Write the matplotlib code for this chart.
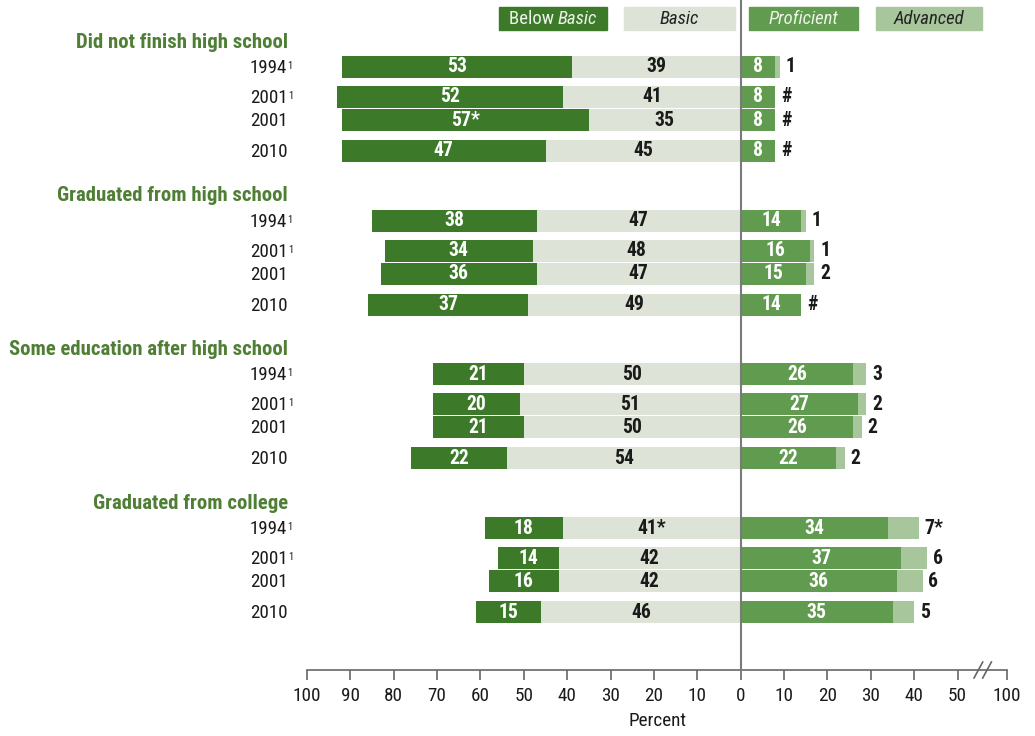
import matplotlib
matplotlib.use("Agg")
import matplotlib.pyplot as plt
from matplotlib.patches import Rectangle
from matplotlib import font_manager
from matplotlib.font_manager import FontProperties

# pick the narrowest face that is installed
family = 'DejaVu Sans'
for cand in ['Roboto Condensed', 'Liberation Sans Narrow', 'Open Sans Condensed',
             'Roboto', 'Liberation Sans']:
    try:
        font_manager.findfont(FontProperties(family=cand), fallback_to_default=False)
        family = cand
        break
    except Exception:
        pass
plt.rcParams['font.family'] = [family, 'DejaVu Sans']

groups = ["Did not finish high school", "Graduated from high school",
          "Some education after high school", "Graduated from college"]
years = ["1994", "2001", "2001", "2010"]
year_notes = ["1", "1", "", ""]

below_basic = [[53, 52, 57, 47], [38, 34, 36, 37], [21, 20, 21, 22], [18, 14, 16, 15]]
basic = [[39, 41, 35, 45], [47, 48, 47, 49], [50, 51, 50, 54], [41, 42, 42, 46]]
proficient = [[8, 8, 8, 8], [14, 16, 15, 14], [26, 27, 26, 22], [34, 37, 36, 35]]
advanced = [[1, 0, 0, 0], [1, 1, 2, 0], [3, 2, 2, 2], [7, 6, 6, 5]]

below_basic_lbl = [["53", "52", "57*", "47"], ["38", "34", "36", "37"],
                   ["21", "20", "21", "22"], ["18", "14", "16", "15"]]
basic_lbl = [["39", "41", "35", "45"], ["47", "48", "47", "49"],
             ["50", "51", "50", "54"], ["41*", "42", "42", "46"]]
proficient_lbl = [["8", "8", "8", "8"], ["14", "16", "15", "14"],
                  ["26", "27", "26", "22"], ["34", "37", "36", "35"]]
advanced_lbl = [["1", "#", "#", "#"], ["1", "1", "2", "#"],
                ["3", "2", "2", "2"], ["7*", "6", "6", "5"]]

legend_names = ["Below", "Basic", "Basic", "Proficient", "Advanced"]

c_below = "#3c7a2a"
c_basic = "#dde4d7"
c_prof = "#619b4f"
c_adv = "#a8c69c"
c_head = "#4f7e35"
c_txt = "#1a1a1a"

fig = plt.figure(figsize=(10.35, 7.36), dpi=100)
ax = fig.add_axes([307 / 1035, 66 / 736, 700 / 1035, 670 / 736])
ax.set_xlim(-100, 61.4)
ax.set_ylim(670, 0)
renderer = fig.canvas.get_renderer()
px_per_unit = 700 / 161.4


def fit(txt, target, **kw):
    # font size that gives the text the target width in pixels
    t = fig.text(0, 0, txt, fontsize=10, **kw)
    w = t.get_window_extent(renderer).width
    t.remove()
    return 10 * target / w


fs_head = min(fit("Some education after high school", 279, fontweight='bold'), 16)
fs_year = min(fit("2010", 37), 16)
fs_bar = min(fit("53", 20, fontweight='bold'), 15)
fs_tick = min(fit("100", 28), 16)
fs_leg = min(fit("Proficient", 70, style='italic'), 15)

row_off = [0, 30, 53, 84]
group_gap = 153.7
first_row = 67
bh = 22

for g in range(4):
    base = first_row + g * group_gap
    ax.text(-104.4, base - 25, groups[g], ha='right', va='center', fontsize=fs_head,
            fontweight='bold', color=c_head, clip_on=False)
    for r in range(4):
        y = base + row_off[r]
        bb = below_basic[g][r]
        b = basic[g][r]
        p = proficient[g][r]
        a = advanced[g][r]
        ax.barh(y, -b, height=bh, left=0, color=c_basic)
        ax.barh(y, -bb, height=bh, left=-b, color=c_below)
        ax.barh(y, p, height=bh, left=0, color=c_prof)
        ax.barh(y, a, height=bh, left=p, color=c_adv)
        ax.text(-b - bb / 2, y, below_basic_lbl[g][r], ha='center', va='center',
                fontsize=fs_bar, fontweight='bold', color='white')
        ax.text(-b / 2, y, basic_lbl[g][r], ha='center', va='center',
                fontsize=fs_bar, fontweight='bold', color=c_txt)
        ax.text(p / 2, y, proficient_lbl[g][r], ha='center', va='center',
                fontsize=fs_bar, fontweight='bold', color='white')
        ax.text(p + a + 1.3, y, advanced_lbl[g][r], ha='left', va='center',
                fontsize=fs_bar, fontweight='bold', color=c_txt)
        t = ax.text(-113.2, y + 1, years[r], ha='left', va='center', fontsize=fs_year,
                    color=c_txt, clip_on=False)
        if year_notes[r]:
            ax.annotate(year_notes[r], xy=(1, 1), xycoords=t, xytext=(0.3, -1.5),
                        textcoords='offset points', ha='left', va='top',
                        fontsize=fs_year * 0.55, color=c_txt, annotation_clip=False)

# centre line
ax.plot([0, 0], [0, 670], color='#7a7a7a', lw=1.5, clip_on=False, zorder=5)

# legend boxes along the top
leg_x = [(-55.7, -30.9), (-26.8, -1.4), (1.8, 27.0), (31.2, 55.7)]
leg_c = [c_below, c_basic, c_prof, c_adv]
for (x0, x1), col in zip(leg_x, leg_c):
    ax.add_patch(Rectangle((x0, 7), x1 - x0, 23, color=col, clip_on=False))
ly = 18.5
t1 = ax.text(0, ly, legend_names[0] + " ", ha='left', va='center', fontsize=fs_leg,
             color='#eef3e8', clip_on=False)
t2 = ax.text(0, ly, legend_names[1], ha='left', va='center', fontsize=fs_leg,
             style='italic', color='#eef3e8', clip_on=False)
w1 = t1.get_window_extent(renderer).width / px_per_unit
w2 = t2.get_window_extent(renderer).width / px_per_unit
start = (leg_x[0][0] + leg_x[0][1]) / 2 - (w1 + w2) / 2
t1.set_x(start)
t2.set_x(start + w1)
ax.text(sum(leg_x[1]) / 2, ly, legend_names[2], ha='center', va='center',
        fontsize=fs_leg, style='italic', color='#222222')
ax.text(sum(leg_x[2]) / 2, ly, legend_names[3], ha='center', va='center',
        fontsize=fs_leg, style='italic', color='#eef3e8')
ax.text(sum(leg_x[3]) / 2, ly, legend_names[4], ha='center', va='center',
        fontsize=fs_leg, style='italic', color='#222222')

# x axis
ticks = [-100, -90, -80, -70, -60, -50, -40, -30, -20, -10, 0, 10, 20, 30, 40, 50, 61.4]
tick_labels = ["100", "90", "80", "70", "60", "50", "40", "30", "20", "10", "0",
               "10", "20", "30", "40", "50", "100"]
ax.set_xticks(ticks)
ax.set_xticklabels(tick_labels, fontsize=fs_tick, color=c_txt)
ax.set_yticks([])
for s in ['top', 'left', 'right']:
    ax.spines[s].set_visible(False)
ax.spines['bottom'].set_color('#666666')
ax.spines['bottom'].set_linewidth(1.2)
ax.tick_params(axis='x', length=7, width=1.2, color='#666666', pad=5)
ax.set_xlabel("Percent", fontsize=fs_tick, color=c_txt, labelpad=5)

# axis break marks
for bx in [53.8, 55.8]:
    ax.plot([bx, bx + 2.0], [678, 662], color='#666666', lw=1.2, clip_on=False)

fig.savefig("out.png", dpi=100, facecolor='white')
